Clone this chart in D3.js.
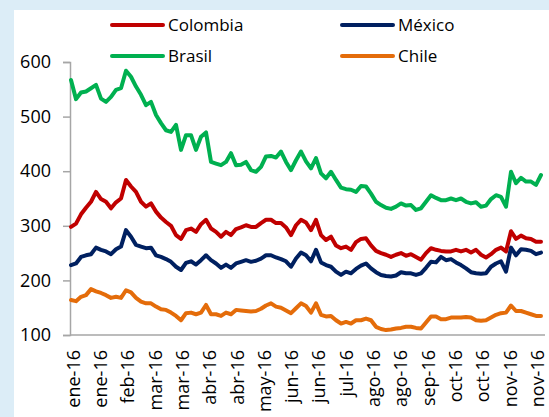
<!DOCTYPE html>
<html><head><meta charset="utf-8">
<script src="https://cdn.jsdelivr.net/npm/d3@7"></script>
<style>html,body{margin:0;padding:0;background:#dcedf7;}svg{display:block;}</style>
</head><body>
<svg id="c" width="549" height="417"></svg>
<script>
const xLabels = ["ene-16","ene-16","feb-16","mar-16","mar-16","abr-16","abr-16","may-16","jun-16","jun-16","jul-16","ago-16","ago-16","sep-16","oct-16","oct-16","nov-16","nov-16"];
const seriesNames = ["Colombia","México","Brasil","Chile"];
const colombia = [298,304,321,333,344,362,349,344,332,343,350,384,372,362,344,335,341,326,315,307,300,283,276,292,
295,289,303,311,295,289,280,289,283,294,297,301,298,298,305,311,311,305,305,297,283,301,311,306,
292,311,283,274,280,264,259,262,256,270,276,277,264,254,250,247,243,247,250,245,248,243,238,
250,259,256,254,253,253,256,253,256,251,256,247,242,248,256,260,253,290,276,282,277,276,271,271];
const mexico = [228,231,243,246,248,260,256,253,248,257,262,292,280,265,262,259,260,246,243,239,234,225,219,232,
235,229,237,246,237,231,223,229,223,231,234,237,234,236,240,246,246,242,239,235,225,240,251,246,
235,256,233,228,225,216,210,216,213,221,227,231,222,215,210,208,207,209,215,213,213,210,213,
223,234,233,243,237,239,233,228,222,215,213,212,213,225,231,235,216,260,246,257,256,254,248,251];
const brasil = [567,532,544,546,552,558,533,527,536,549,552,584,573,555,540,521,527,503,488,475,472,485,439,466,
466,439,463,471,417,414,411,417,433,411,412,417,402,399,408,427,428,425,436,417,402,420,436,418,
405,424,396,387,399,384,370,367,366,362,373,372,359,344,338,333,331,335,341,337,338,329,332,
344,356,351,347,347,350,347,350,344,341,343,335,337,349,356,353,335,399,378,388,381,381,375,393];
const chile = [164,162,170,173,184,180,177,173,168,170,168,182,178,168,161,158,158,152,147,146,141,135,127,140,
141,138,141,155,138,138,135,141,138,146,145,144,143,144,148,154,158,152,150,145,140,149,158,153,
141,158,137,134,135,127,121,124,121,127,127,130,127,115,111,109,110,112,113,115,115,113,112,
123,134,134,129,129,132,132,132,133,132,127,126,127,132,137,140,141,154,144,144,141,138,135,135];
const yTicks = [100,200,300,400,500,600];
const colors = {"Colombia":"#c00000","México":"#002060","Brasil":"#00b050","Chile":"#e46c0a"};

const data = {"Colombia":colombia,"México":mexico,"Brasil":brasil,"Chile":chile};
const svg = d3.select("#c");
const FONT = "'Open Sans', sans-serif";

svg.append("rect").attr("x",14).attr("y",10).attr("width",535).attr("height",407).attr("fill","#ffffff");

const N = colombia.length;
const x = d3.scaleLinear().domain([0, N-1]).range([71, 541]);
const y = d3.scaleLinear().domain([100, 600]).range([335, 62]);
const xl = d3.scalePoint().domain(d3.range(xLabels.length)).range([73, 537]);

// y axis
const ya = svg.append("g").attr("transform","translate(70,0)")
  .call(d3.axisLeft(y).tickValues(yTicks).tickSize(7).tickPadding(12).tickFormat(d3.format("d")));
ya.select(".domain").attr("stroke","#a6a6a6").attr("stroke-width",1.5);
ya.selectAll(".tick line").attr("stroke","#a6a6a6").attr("stroke-width",1.5);
ya.selectAll("text").attr("font-family",FONT).attr("font-size",18).attr("fill","#000");

// x axis
const xa = svg.append("g").attr("transform","translate(0,335)")
  .call(d3.axisBottom(xl).tickSize(0).tickFormat(i => xLabels[i]));
xa.select(".domain").remove();
svg.append("line").attr("x1",70).attr("x2",545).attr("y1",335).attr("y2",335)
  .attr("stroke","#a6a6a6").attr("stroke-width",1.5);
xa.selectAll("text").attr("font-family",FONT).attr("font-size",18).attr("fill","#000")
  .attr("text-anchor","end").attr("dy","0.35em")
  .attr("transform", "translate(0,15) rotate(-90)").attr("x",0).attr("y",0);

// lines
const line = d3.line().x((d,i)=>x(i)).y(d=>y(d)).curve(d3.curveLinear);
["Chile","México","Colombia","Brasil"].forEach(name => {
  svg.append("path").datum(data[name]).attr("d", line)
    .attr("fill","none").attr("stroke",colors[name]).attr("stroke-width",4)
    .attr("stroke-linejoin","round").attr("stroke-linecap","round");
});

// legend
const legPos = [[112,25],[342,25],[112,56],[342,56]];
seriesNames.forEach((name,k) => {
  const [lx,ly] = legPos[k];
  svg.append("line").attr("x1",lx).attr("x2",lx+51).attr("y1",ly).attr("y2",ly)
    .attr("stroke",colors[name]).attr("stroke-width",4).attr("stroke-linecap","round");
  svg.append("text").attr("x",lx+56).attr("y",ly).attr("dy","0.35em")
    .attr("font-family",FONT).attr("font-size",17).attr("fill","#000").text(name);
});
</script>
</body></html>
